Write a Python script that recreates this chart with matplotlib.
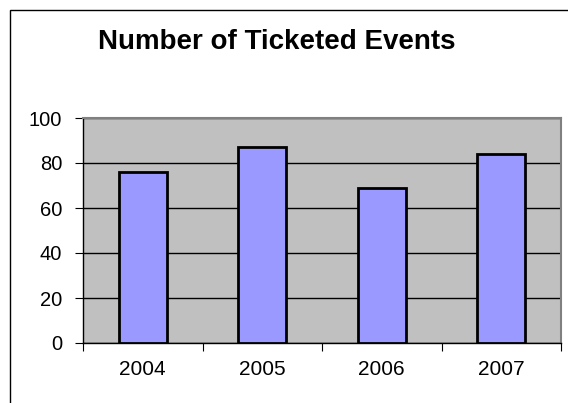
import matplotlib.pyplot as plt
import matplotlib.patches as patches
import numpy as np

# dati
anni = ["2004", "2005", "2006", "2007"]
eventi = [76, 87, 69, 84]
y_ticks = [0, 20, 40, 60, 80, 100]

plt.rcParams['font.family'] = ['Liberation Sans', 'DejaVu Sans']

fig = plt.figure(figsize=(5.68, 4.03), dpi=100)
ax = fig.add_axes([83/568, 1 - 343/403, (561 - 83)/568, (343 - 118)/403])

x = np.arange(len(anni))
ax.set_facecolor('#C0C0C0')
ax.bar(x, eventi, width=0.4, color='#9999FF', edgecolor='black', linewidth=2, zorder=3)

ax.set_xlim(-0.5, len(anni) - 0.5)
ax.set_ylim(0, 100)
ax.set_yticks(y_ticks)
ax.set_yticklabels([str(v) for v in y_ticks], fontsize=14.5)

# tick sulle divisioni tra categorie, etichette al centro
ax.set_xticks(np.arange(len(anni) + 1) - 0.5)
ax.set_xticklabels([])
ax.set_xticks(x, minor=True)
ax.set_xticklabels(anni, minor=True, fontsize=15)
ax.tick_params(axis='x', which='minor', length=0, pad=12)
ax.tick_params(axis='x', which='major', length=6, direction='out', color='black')
ax.tick_params(axis='y', length=6, direction='out', pad=9)

ax.grid(axis='y', color='black', linewidth=1, zorder=1)
ax.set_axisbelow(True)

for s in ['top', 'right']:
    ax.spines[s].set_color('#808080')
    ax.spines[s].set_linewidth(1.5)
for s in ['left', 'bottom']:
    ax.spines[s].set_color('black')
    ax.spines[s].set_linewidth(1)

fig.text(277/568, 1 - 42/403, "Number of Ticketed Events", fontsize=20,
         fontweight='bold', ha='center', va='center')

# cornice esterna del grafico
fig.patches.append(patches.Rectangle((10/568, -0.2), 2, 1 - 10/403 + 0.2,
                                     transform=fig.transFigure, fill=False,
                                     edgecolor='black', linewidth=1))

fig.savefig('out.png', dpi=100)
